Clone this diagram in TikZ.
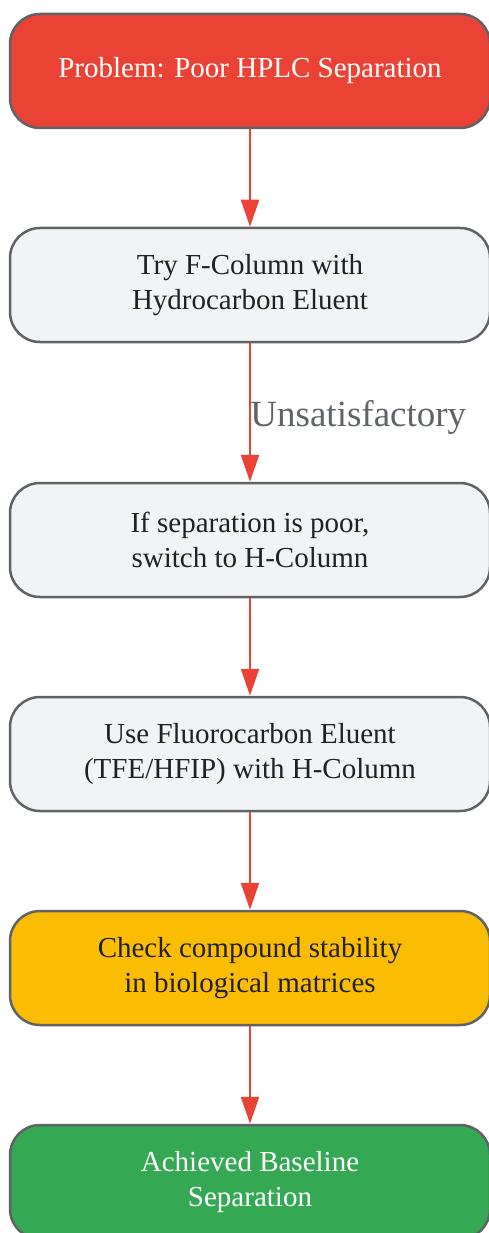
\documentclass[tikz,border=0pt]{standalone}
\usepackage{fontspec}
\setmainfont{Liberation Serif}
\usetikzlibrary{arrows.meta}
\definecolor{probred}{HTML}{EA4335}
\definecolor{okgreen}{HTML}{34A853}
\definecolor{warnyellow}{HTML}{FBBC04}
\definecolor{stepgrey}{HTML}{F1F3F4}
\definecolor{edgegrey}{HTML}{5F6368}
\definecolor{txtdark}{HTML}{202124}

\begin{document}
\begin{tikzpicture}[x=1pt,y=-1pt,
	box/.style={draw=edgegrey,line width=2.5pt,rounded corners=30pt,
		minimum width=480pt,minimum height=114pt,align=center,
		font=\fontsize{29}{35}\selectfont,text=txtdark,fill=stepgrey},
	flow/.style={draw=probred,line width=2.2pt,-{Triangle[length=27pt,width=18pt]}}]
	\useasboundingbox (0,0) rectangle (489,1233);
	
	%BOXES
	\node[box,fill=probred,text=white]	(prob)  at (250,71)   {Problem: Poor HPLC Separation};
	\node[box]							(fcol)  at (250,285)  {Try F-Column with\\Hydrocarbon Eluent};
	\node[box]							(hcol)  at (250,540)  {If separation is poor,\\switch to H-Column};
	\node[box]							(fluo)  at (250,754)  {Use Fluorocarbon Eluent\\(TFE/HFIP) with H-Column};
	\node[box,fill=warnyellow]			(stab)  at (250,968)  {Check compound stability\\in biological matrices};
	\node[box,fill=okgreen,text=white]	(done)  at (250,1182) {Achieved Baseline\\Separation};
	
	%ARROWS
	\draw[flow] (prob) -- (fcol);
	\draw[flow] (fcol) -- node[pos=0.5,anchor=west,xshift=-4pt,yshift=-5pt,text=edgegrey,
		font=\fontsize{37}{44}\selectfont] (unsat) {Unsatisfactory} (hcol);
	\draw[flow] (hcol) -- (fluo);
	\draw[flow] (fluo) -- (stab);
	\draw[flow] (stab) -- (done);
\end{tikzpicture}
\end{document}
